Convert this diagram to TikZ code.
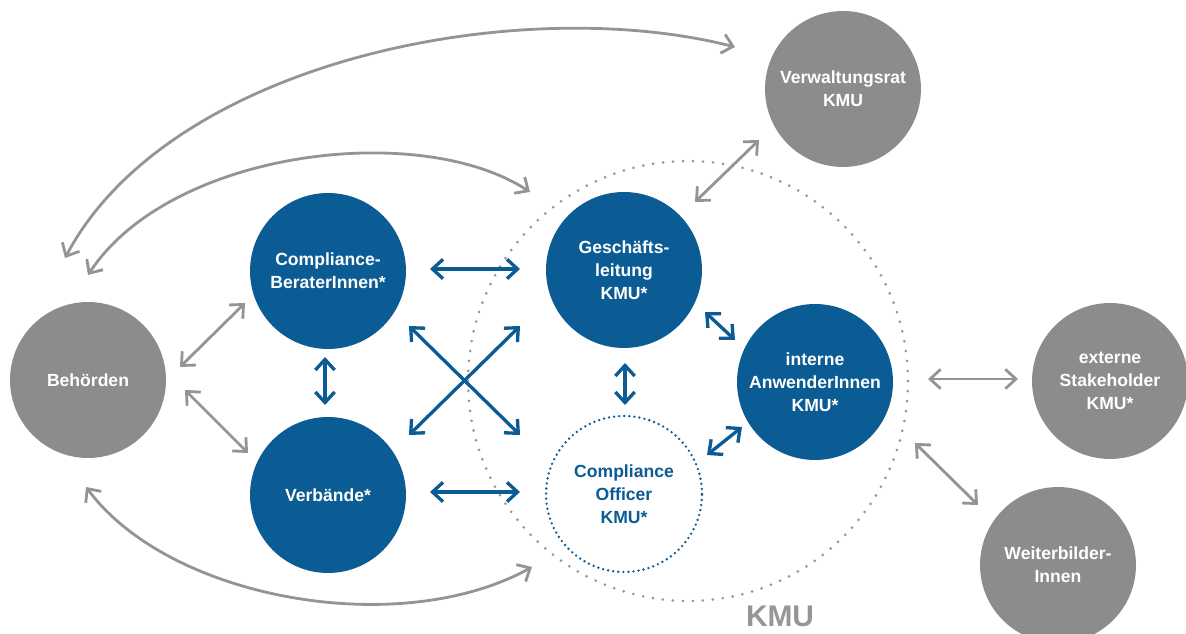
\documentclass[tikz,border=0pt]{standalone}
\usepackage{fontspec}
\setmainfont{Liberation Sans}
\usetikzlibrary{arrows.meta,calc}
\definecolor{kmublue}{RGB}{11,92,148}
\definecolor{kmugray}{RGB}{140,140,140}
\definecolor{arrowgray}{RGB}{148,148,148}
\definecolor{ringgray}{RGB}{150,150,150}
\begin{document}
\begin{tikzpicture}[x=0.02cm, y=-0.02cm,
    >={Straight Barb[length=6pt, width=11pt]},
    party/.style={circle, minimum size=3.12cm, inner sep=0pt, align=center,
        font=\bfseries\fontsize{10}{13}\selectfont, text=white},
    bluebox/.style={party, fill=kmublue},
    graybox/.style={party, fill=kmugray},
    officerbox/.style={party, fill=white, draw=kmublue, text=kmublue,
        line width=1.5pt, dash pattern=on 0pt off 2.9pt, line cap=round},
    kmuring/.style={circle, draw=ringgray, line width=1.7pt, minimum size=8.8cm,
        dash pattern=on 0pt off 5.7pt, line cap=round},
    barrow/.style={draw=kmublue, line width=1.9pt, <->},
    garrow/.style={draw=arrowgray, line width=1.6pt, <->}
]
\useasboundingbox (0,0) rectangle (1186,634);

\node[kmuring] (kmu) at (688,381) {}; % KMU boundary
\node[text=ringgray, inner sep=0pt, anchor=base,
    font=\bfseries\fontsize{17}{20}\selectfont] (kmulabel) at (780,626) {KMU};

\node[graybox] (vr)       at (843,89)   {Verwaltungsrat\\KMU};
\node[graybox] (beh)      at (88,380)   {Behörden};
\node[bluebox] (berater)  at (328,271)  {Compliance-\\BeraterInnen*};
\node[bluebox] (verb)     at (328,495)  {Verbände*};
\node[bluebox] (gl)       at (624,270)  {Geschäfts-\\leitung\\KMU*};
\node[officerbox] (co)    at (624,494)  {Compliance\\Officer\\KMU*};
\node[bluebox] (intern)   at (815,382)  {interne\\AnwenderInnen\\KMU*};
\node[graybox] (extern)   at (1110,381) {externe\\Stakeholder\\KMU*};
\node[graybox] (weiter)   at (1058,565) {Weiterbilder-\\Innen};

% long arcs from Behörden
\draw[garrow] ($(beh)+(-23,-122)$) .. controls (170,60) and (520,-8) .. ($(vr)+(-108,-42)$);
\draw[garrow] ($(beh)+(0,-105)$) .. controls (170,150) and (420,120) .. ($(gl)+(-94,-78)$);
\draw[garrow] ($(beh)+(-2,107)$) .. controls (170,600) and (400,640) .. ($(co)+(-92,73)$);

% gray links
\draw[garrow] ($(beh)+(92,-13)$) -- ($(berater)+(-83,32)$);
\draw[garrow] ($(beh)+(97,10)$) -- ($(verb)+(-80,-42)$);
\draw[garrow] ($(gl)+(71,-68)$) -- ($(vr)+(-84,51)$);
\draw[garrow] ($(intern)+(113,-3)$) -- ($(extern)+(-92,-2)$);
\draw[garrow] ($(intern)+(100,61)$) -- ($(weiter)+(-80,-60)$);

% blue links
\draw[barrow] ($(berater)+(102,-2)$) -- ($(gl)+(-104,-1)$);
\draw[barrow] ($(verb)+(102,-3)$) -- ($(co)+(-104,-2)$);
\draw[barrow] ($(berater)+(81,55)$) -- ($(co)+(-104,-59)$);
\draw[barrow] ($(verb)+(81,-60)$) -- ($(gl)+(-104,56)$);
\draw[barrow] ($(berater)+(-3,86)$) -- ($(verb)+(-3,-90)$);
\draw[barrow] ($(gl)+(1,93)$) -- ($(co)+(1,-89)$);
\draw[barrow] ($(gl)+(81,42)$) -- ($(intern)+(-80,-42)$);
\draw[barrow] ($(co)+(83,-39)$) -- ($(intern)+(-73,45)$);
\end{tikzpicture}
\end{document}
